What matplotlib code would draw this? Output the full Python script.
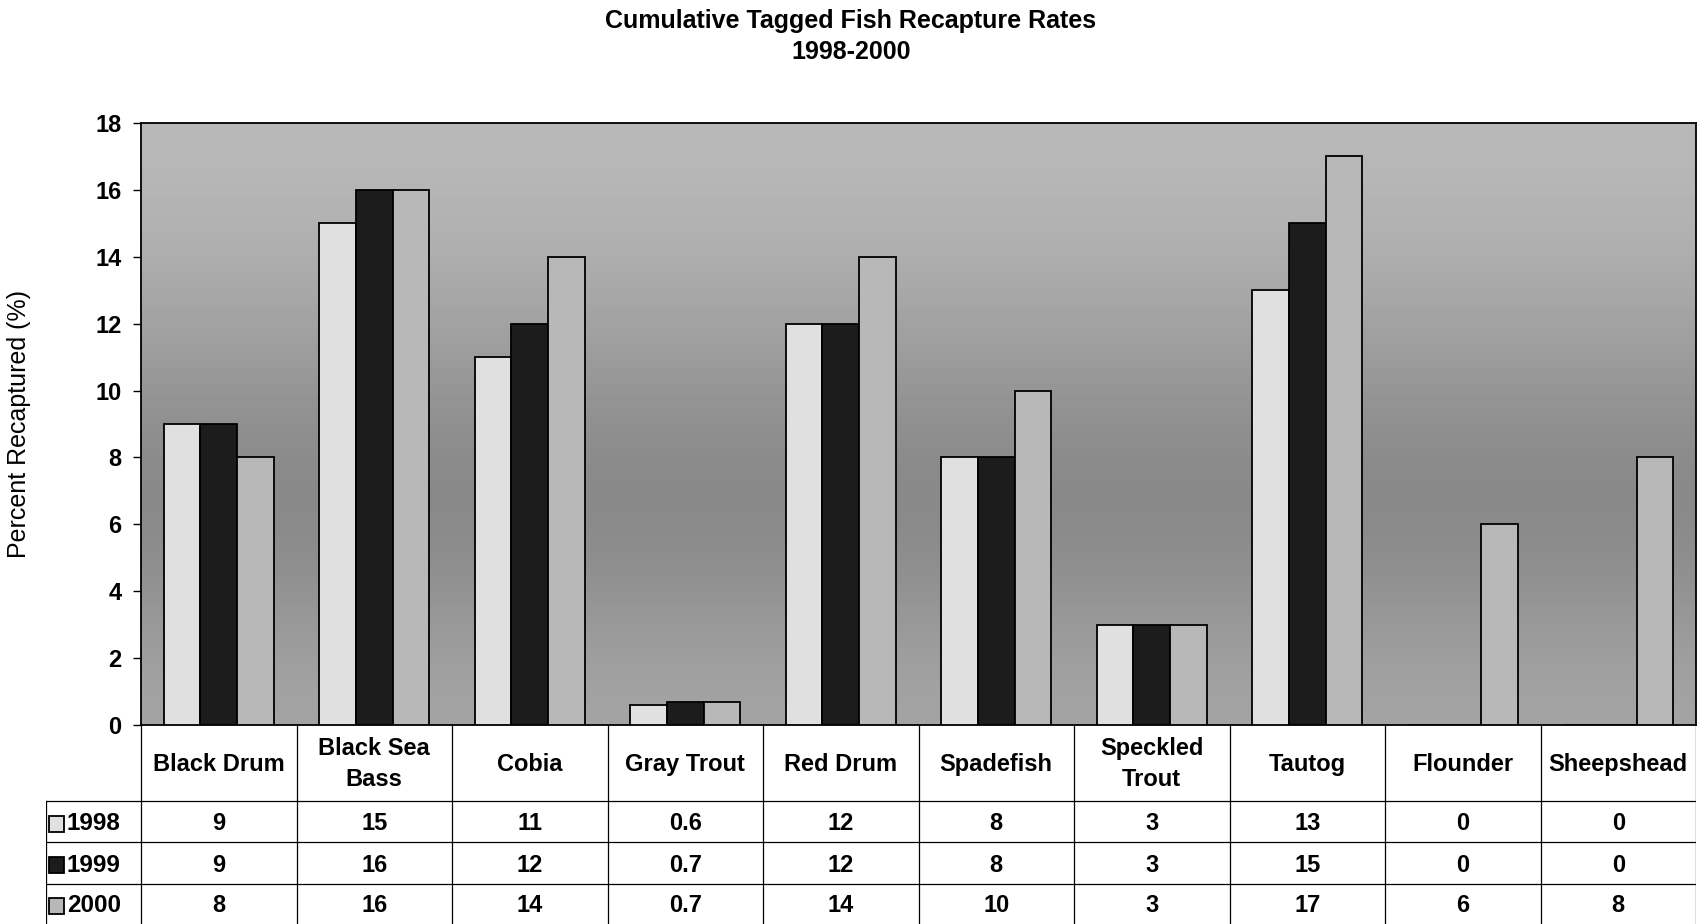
import numpy as np
import matplotlib
matplotlib.use("Agg")
import matplotlib.pyplot as plt
from matplotlib.patches import Rectangle

categories = ["Black Drum", "Black Sea\nBass", "Cobia", "Gray Trout", "Red Drum",
              "Spadefish", "Speckled\nTrout", "Tautog", "Flounder", "Sheepshead"]
years = ["1998", "1999", "2000"]
v1998 = [9, 15, 11, 0.6, 12, 8, 3, 13, 0, 0]
v1999 = [9, 16, 12, 0.7, 12, 8, 3, 15, 0, 0]
v2000 = [8, 16, 14, 0.7, 14, 10, 3, 17, 6, 8]
series = [v1998, v1999, v2000]
colors = ["#e0e0e0", "#1c1c1c", "#b8b8b8"]
yticks = list(range(0, 19, 2))

plt.rcParams['font.family'] = ['Liberation Sans', 'DejaVu Sans']

W, H = 1702, 924
fig = plt.figure(figsize=(W / 100, H / 100), dpi=100)

x0, x1 = 141, 1696
ytop, ybot = 123, 725
ax = fig.add_axes([x0 / W, 1 - ybot / H, (x1 - x0) / W, (ybot - ytop) / H])

# background gradient (scanned gray)
grad = np.array([0.72, 0.70, 0.66, 0.61, 0.56, 0.53, 0.55, 0.60, 0.64]).reshape(-1, 1)
ax.imshow(grad, cmap='gray', vmin=0, vmax=1, aspect='auto',
          extent=[0, 1, 0, 1], transform=ax.transAxes, zorder=0, interpolation='bicubic')

n = len(categories)
x = np.arange(n)
bw = 0.235
for i, (vals, c) in enumerate(zip(series, colors)):
    ax.bar(x + (i - 1) * bw, vals, width=bw, color=c, edgecolor='black',
           linewidth=1.3, zorder=3)

ax.set_xlim(-0.5, n - 0.5)
ax.set_ylim(0, 18)
ax.set_yticks(yticks)
ax.set_yticklabels([str(t) for t in yticks], fontsize=17, fontweight='bold')
ax.set_xticks([])
for s in ax.spines.values():
    s.set_linewidth(1.3)
ax.tick_params(axis='y', length=6, width=1, pad=8)
ax.set_ylabel("Percent Recaptured (%)", fontsize=18)
ax.yaxis.set_label_coords(-0.071, 0.5)

fig.text(0.5, 1 - 21 / H, "Cumulative Tagged Fish Recapture Rates", ha='center', va='center',
         fontsize=18, fontweight='bold')
fig.text(0.5, 1 - 52 / H, "1998-2000", ha='center', va='center',
         fontsize=18, fontweight='bold')

# data table
tx0 = 46
unit = (x1 - x0) / n
tax = fig.add_axes([tx0 / W, 0, (x1 - tx0) / W, 1 - ybot / H])
tax.set_xlim(-0.5 - (x0 - tx0) / unit, n - 0.5)
tax.set_ylim(H, ybot)
tax.axis('off')

rows_y = [725, 801, 842, 884, 924]
lw = 0.9
for k in range(n + 1):
    tax.plot([k - 0.5, k - 0.5], [725, 924], color='black', lw=lw)
left = -0.5 - (x0 - tx0) / unit
tax.plot([left, left], [801, 924], color='black', lw=lw)
for yy in rows_y[1:4]:
    tax.plot([left, n - 0.5], [yy, yy], color='black', lw=lw)

for k, cat in enumerate(categories):
    tax.text(k, (725 + 801) / 2 + 1, cat, ha='center', va='center', fontsize=17,
             fontweight='bold', linespacing=1.45)
for r, (yr, vals, c) in enumerate(zip(years, series, colors)):
    yc = (rows_y[r + 1] + rows_y[r + 2]) / 2 + 2
    for k, v in enumerate(vals):
        tax.text(k, yc, f"{v:g}", ha='center', va='center', fontsize=17, fontweight='bold')
    tax.add_patch(Rectangle((left + 3 / unit, yc - 8), 15 / unit, 16, facecolor=c,
                            edgecolor='black', lw=1.3))
    tax.text(left + 21 / unit, yc, yr, ha='left', va='center', fontsize=17.5, fontweight='bold')

fig.savefig("out.png", dpi=100, facecolor='white')
